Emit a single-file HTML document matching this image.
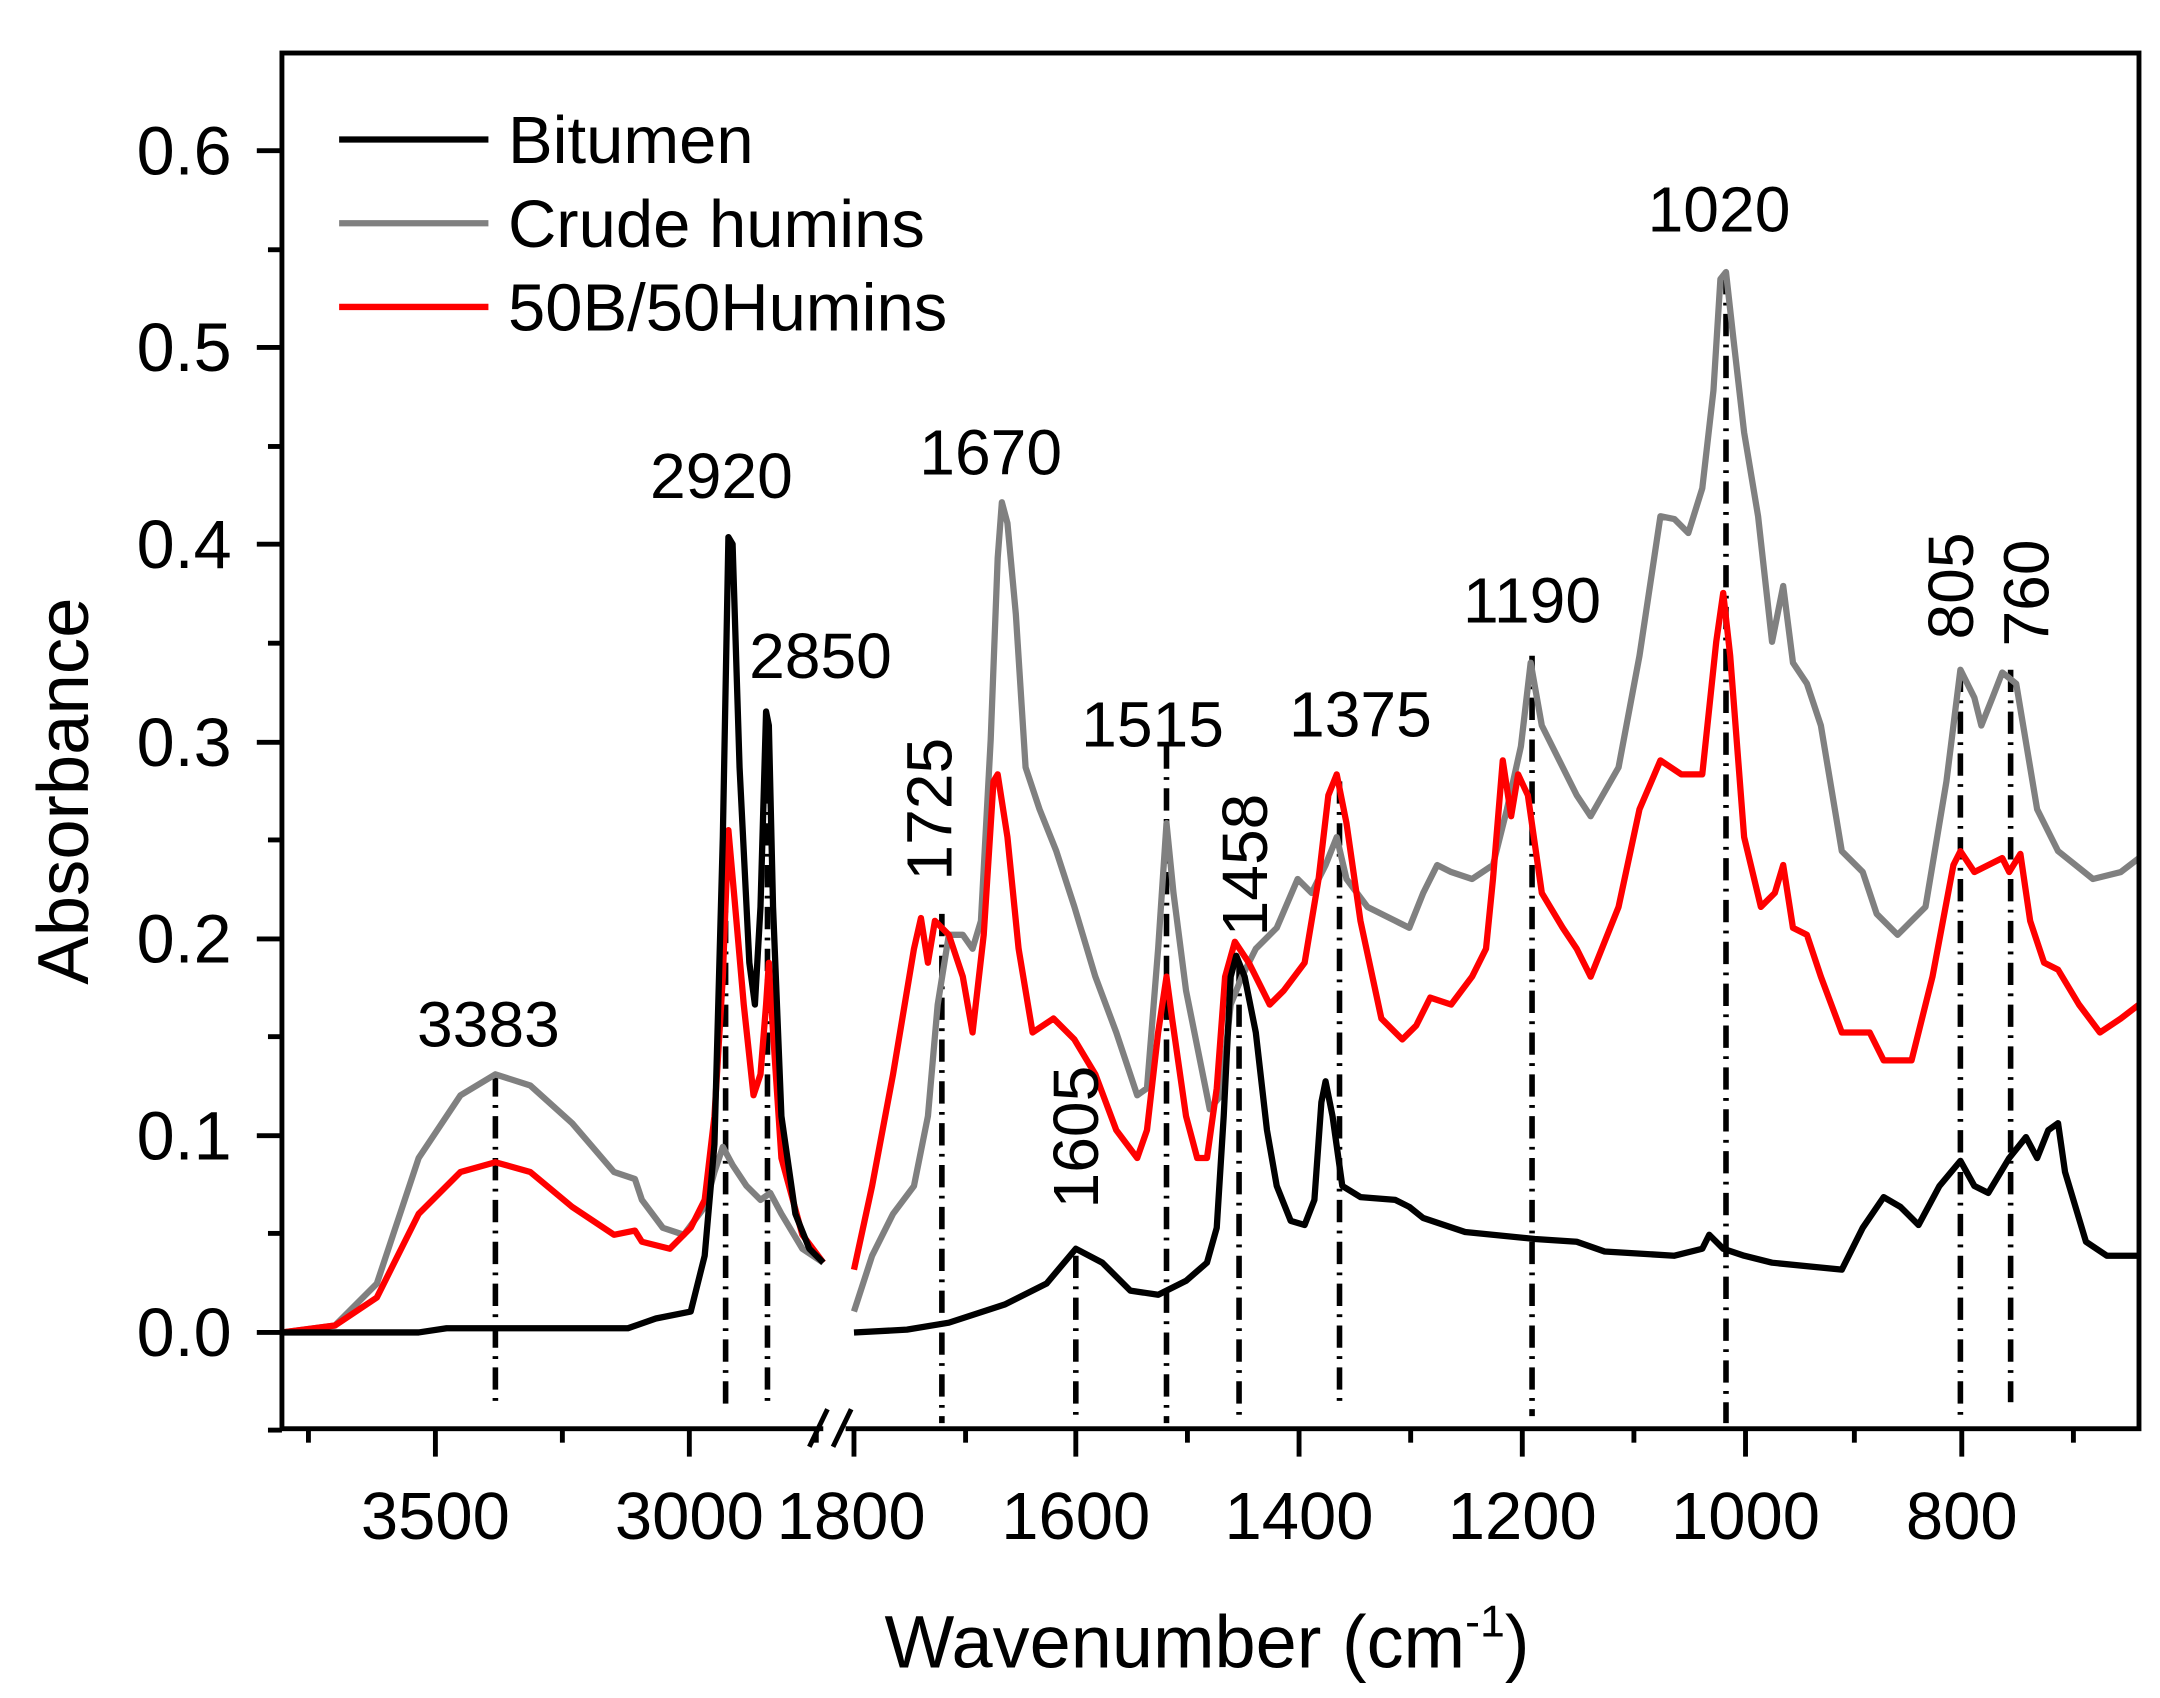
<!DOCTYPE html>
<html><head><meta charset="utf-8"><style>
html,body{margin:0;padding:0;background:#fff}
svg{display:block}
text{font-family:"Liberation Sans",Arial,sans-serif;fill:#000}
</style></head><body>
<svg width="2160" height="1698" viewBox="0 0 1548 1217" xmlns="http://www.w3.org/2000/svg">
<defs><clipPath id="c"><rect x="202" y="38" width="1331" height="986"/></clipPath></defs>
<rect width="1548" height="1217" fill="#fff"/>
<g stroke="#000" stroke-width="4" stroke-dasharray="16 6 2 6" fill="none">
<line x1="355" y1="770" x2="355" y2="1010"/><line x1="520" y1="600" x2="520" y2="1010"/>
<line x1="550" y1="530" x2="550" y2="1010"/><line x1="675" y1="655" x2="675" y2="1020"/>
<line x1="771" y1="900" x2="771" y2="1020"/><line x1="836" y1="535" x2="836" y2="1020"/>
<line x1="888" y1="690" x2="888" y2="1020"/><line x1="960" y1="560" x2="960" y2="1010"/>
<line x1="1098" y1="470" x2="1098" y2="1015"/><line x1="1237" y1="195" x2="1237" y2="1020"/>
<line x1="1405" y1="480" x2="1405" y2="1020"/><line x1="1441" y1="480" x2="1441" y2="1005"/>
</g>
<g clip-path="url(#c)" fill="none" stroke-width="4.5" stroke-linejoin="round">
<polyline stroke="#808080" points="202,955 240,950 270,920 300,830 330,785 355,770 380,778 410,805 440,840 455,845 460,860 475,880 490,885 505,865 512,840 518,822 525,835 535,850 545,860 552,855 560,870 575,895 590,905"/>
<polyline stroke="#ff0000" points="202,955 240,950 270,930 300,870 330,840 355,833 380,840 410,865 440,885 455,882 460,890 480,895 495,880 505,860 512,800 518,700 522,595 526,640 533,720 540,785 545,770 549,720 551,690 554,740 560,830 575,885 590,905"/>
<polyline stroke="#000" points="202,955 300,955 320,952 450,952 470,945 495,940 505,900 512,820 518,600 522,385 525,390 530,550 537,690 541,720 545,650 549,510 551,520 554,650 560,800 570,870 580,895 590,905"/>
<polyline stroke="#808080" points="612,940 625,900 640,870 655,850 665,800 672,720 680,670 690,670 697,680 703,660 710,530 715,400 718,360 722,375 728,440 735,550 745,580 757,610 770,650 785,700 800,740 815,785 822,780 830,680 836,590 841,640 850,710 860,760 867,795 875,785 882,720 890,700 900,680 915,665 930,630 940,640 950,620 958,600 965,630 980,650 1000,660 1010,665 1020,640 1030,620 1040,625 1055,630 1070,620 1080,580 1090,535 1097,475 1105,520 1120,550 1130,570 1140,585 1160,550 1175,470 1190,370 1200,372 1210,382 1220,350 1228,280 1233,200 1237,195 1242,240 1250,310 1260,370 1270,460 1278,420 1285,475 1295,490 1305,520 1320,610 1335,625 1345,655 1360,670 1380,650 1395,560 1405,480 1415,500 1420,520 1428,500 1435,482 1445,490 1460,580 1475,610 1500,630 1520,625 1533,615"/>
<polyline stroke="#ff0000" points="612,910 625,850 640,770 655,680 660,658 665,690 670,660 680,670 690,700 697,740 705,670 712,560 715,555 722,600 730,680 740,740 755,730 770,745 785,770 800,810 815,830 822,810 830,740 836,700 840,730 850,800 858,830 865,830 872,780 878,700 885,675 895,690 910,720 920,710 935,690 945,630 952,570 958,555 965,590 975,660 990,730 1005,745 1015,735 1025,715 1040,720 1055,700 1065,680 1070,630 1077,545 1083,585 1088,555 1095,570 1105,640 1120,665 1130,680 1140,700 1160,650 1175,580 1190,545 1205,555 1220,555 1230,460 1235,425 1240,470 1250,600 1262,650 1272,640 1278,620 1285,665 1295,670 1305,700 1320,740 1340,740 1350,760 1370,760 1385,700 1400,620 1405,610 1415,625 1425,620 1435,615 1440,625 1448,612 1455,660 1465,690 1475,695 1490,720 1505,740 1520,730 1533,720"/>
<polyline stroke="#000" points="612,955 650,953 680,948 720,935 750,920 771,895 790,905 810,925 830,928 850,918 865,905 872,880 877,800 882,700 886,685 892,700 900,740 908,810 915,850 925,875 935,878 942,860 947,790 950,775 955,800 962,850 975,858 1000,860 1010,865 1020,873 1050,883 1100,888 1130,890 1150,897 1200,900 1220,895 1225,885 1235,895 1250,900 1270,905 1300,908 1320,910 1335,880 1350,858 1362,865 1375,878 1390,850 1405,832 1415,850 1425,855 1440,830 1452,815 1460,830 1468,810 1475,805 1480,840 1495,890 1510,900 1533,900"/>
</g>
<g stroke="#000" stroke-width="3.5" fill="none">
<rect x="202" y="38" width="1331" height="986"/>
<line x1="202" y1="955" x2="184" y2="955"/><line x1="202" y1="814" x2="184" y2="814"/>
<line x1="202" y1="673" x2="184" y2="673"/><line x1="202" y1="532" x2="184" y2="532"/>
<line x1="202" y1="390" x2="184" y2="390"/><line x1="202" y1="249" x2="184" y2="249"/>
<line x1="202" y1="108" x2="184" y2="108"/>
<line x1="202" y1="1025" x2="192" y2="1025"/><line x1="202" y1="884" x2="192" y2="884"/>
<line x1="202" y1="743" x2="192" y2="743"/><line x1="202" y1="602" x2="192" y2="602"/>
<line x1="202" y1="461" x2="192" y2="461"/><line x1="202" y1="320" x2="192" y2="320"/>
<line x1="202" y1="179" x2="192" y2="179"/>
<line x1="312" y1="1024" x2="312" y2="1044"/><line x1="494" y1="1024" x2="494" y2="1044"/>
<line x1="221" y1="1024" x2="221" y2="1034"/><line x1="403" y1="1024" x2="403" y2="1034"/><line x1="585" y1="1024" x2="585" y2="1034"/>
<line x1="612" y1="1024" x2="612" y2="1044"/><line x1="771" y1="1024" x2="771" y2="1044"/>
<line x1="931" y1="1024" x2="931" y2="1044"/><line x1="1091" y1="1024" x2="1091" y2="1044"/>
<line x1="1251" y1="1024" x2="1251" y2="1044"/><line x1="1406" y1="1024" x2="1406" y2="1044"/>
<line x1="692" y1="1024" x2="692" y2="1034"/><line x1="851" y1="1024" x2="851" y2="1034"/>
<line x1="1011" y1="1024" x2="1011" y2="1034"/><line x1="1171" y1="1024" x2="1171" y2="1034"/>
<line x1="1329" y1="1024" x2="1329" y2="1034"/><line x1="1486" y1="1024" x2="1486" y2="1034"/>
</g>
<rect x="590" y="1015" width="16" height="20" fill="#fff"/>
<g stroke="#000" stroke-width="3.5"><line x1="580" y1="1037" x2="593" y2="1010"/><line x1="597" y1="1037" x2="610" y2="1010"/></g>
<g font-size="49" text-anchor="end">
<text x="166" y="972">0.0</text><text x="166" y="831">0.1</text><text x="166" y="690">0.2</text>
<text x="166" y="549">0.3</text><text x="166" y="407">0.4</text><text x="166" y="266">0.5</text><text x="166" y="125">0.6</text>
</g>
<g font-size="48" text-anchor="middle">
<text x="312" y="1103">3500</text><text x="494" y="1103">3000</text><text x="610" y="1103">1800</text>
<text x="771" y="1103">1600</text><text x="931" y="1103">1400</text><text x="1091" y="1103">1200</text>
<text x="1251" y="1103">1000</text><text x="1406" y="1103">800</text>
</g>
<text x="865" y="1195" font-size="53" text-anchor="middle">Wavenumber (cm<tspan font-size="32" dy="-22">-1</tspan><tspan dy="22">)</tspan></text>
<text transform="translate(63,567) rotate(-90)" font-size="52" text-anchor="middle">Absorbance</text>
<g stroke-width="4.5"><line x1="243" y1="100" x2="350" y2="100" stroke="#000"/><line x1="243" y1="160" x2="350" y2="160" stroke="#808080"/><line x1="243" y1="220" x2="350" y2="220" stroke="#ff0000"/></g>
<g font-size="48"><text x="364" y="117">Bitumen</text><text x="364" y="177">Crude humins</text><text x="364" y="237">50B/50Humins</text></g>
<g font-size="46" text-anchor="middle">
<text x="350" y="750">3383</text><text x="517" y="357">2920</text><text x="588" y="486">2850</text>
<text x="710" y="340">1670</text><text x="826" y="535">1515</text><text x="975" y="528">1375</text>
<text x="1098" y="446">1190</text><text x="1232" y="166">1020</text>
<text transform="translate(682,580) rotate(-90)">1725</text>
<text transform="translate(787,815) rotate(-90)">1605</text>
<text transform="translate(908,620) rotate(-90)">1458</text>
<text transform="translate(1414,420) rotate(-90)">805</text>
<text transform="translate(1468,425) rotate(-90)">760</text>
</g>
</svg>
</body></html>
